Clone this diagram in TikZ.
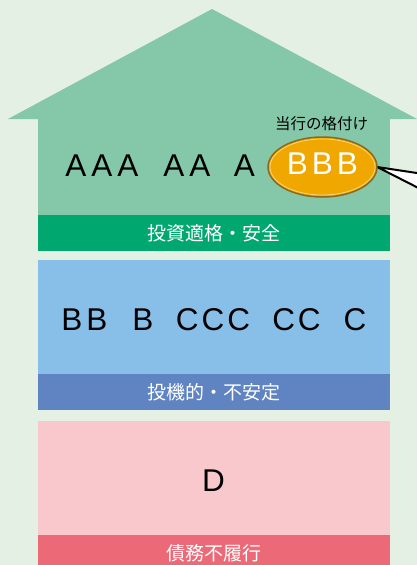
\documentclass[tikz,border=0pt]{standalone}
\usepackage{fontspec}
\setmainfont{Liberation Sans}
\newfontfamily\jpfont{Noto Sans CJK JP}
\usetikzlibrary{shapes.geometric}
\definecolor{bgc}{HTML}{E4F0E4}
\definecolor{roofc}{HTML}{85C8A9}
\definecolor{dgreen}{HTML}{00A870}
\definecolor{lblue}{HTML}{88BFE9}
\definecolor{dblue}{HTML}{5F84C1}
\definecolor{lpink}{HTML}{F9C8CC}
\definecolor{dred}{HTML}{EC6977}
\definecolor{gold}{HTML}{F0A800}
\definecolor{goldedge}{HTML}{8B6A1E}
\begin{document}
\begin{tikzpicture}[x=1pt,y=-1pt,
  band/.style={rectangle, minimum width=352pt, minimum height=36pt, inner sep=0pt, text=white, font=\jpfont\fontsize{19}{19}\selectfont},
  panel/.style={rectangle, minimum width=352pt, minimum height=114pt, inner sep=0pt},
  grade/.style={inner sep=0pt, font=\fontsize{31.5}{31.5}\selectfont},
  tail/.style={fill=white, draw=black, line width=2pt, line join=miter}]
\useasboundingbox (0,0) rectangle (417,565);
\clip (0,0) rectangle (417,565);
\fill[bgc] (0,0) rectangle (417,565);
% house top
\fill[roofc] (8,119) -- (212,9) -- (417,119) -- cycle;
\fill[roofc] (38,118) rectangle (390,215);
% bands and panels
\node[band, fill=dgreen] (b1) at (214,233) {投資適格・安全};
\node[panel, fill=lblue] (p2) at (214,317) {};
\node[band, fill=dblue] (b2) at (214,392) {投機的・不安定};
\node[panel, fill=lpink] (p3) at (214,478) {};
\node[band, fill=dred] (b3) at (214,553) {債務不履行};
% grades
\node[grade] (aaa) at (102,165.5) {A\kern5pt A\kern5pt A};
\node[grade] (aa) at (187,165.5) {A\kern5pt A};
\node[grade] (a) at (244.5,165.5) {A};
\node[grade] (bb) at (84.5,319.5) {B\kern4pt B};
\node[grade] (b) at (143,319.5) {B};
\node[grade] (ccc) at (213,319.5) {C\kern3pt C\kern3pt C};
\node[grade] (cc) at (296.5,319.5) {C\kern3pt C};
\node[grade] (c) at (355,319.5) {C};
\node[grade] (d) at (213.5,481) {D};
% callout
\node[ellipse, minimum width=109pt, minimum height=60pt, inner sep=0pt] (bbb) at (322.5,167) {};
\coordinate (t1) at (440,176.5);
\coordinate (t2) at (440,199);
\filldraw[tail] (bbb.east) -- (t1) -- (t2) -- cycle;
\node[ellipse, minimum width=109pt, minimum height=60pt, inner sep=0pt, fill=gold, draw=goldedge, line width=1.5pt] at (bbb) {};
\draw[white!55!gold, line width=0.7pt] (bbb) ellipse [x radius=52.5pt, y radius=28pt];
\node[grade, text=white] (bbbt) at (322.5,164) {B\kern4pt B\kern4pt B};
\node[inner sep=0pt, font=\jpfont\fontsize{15.5}{15.5}\selectfont] (lbl) at (321.5,124) {当行の格付け};
\end{tikzpicture}
\end{document}
